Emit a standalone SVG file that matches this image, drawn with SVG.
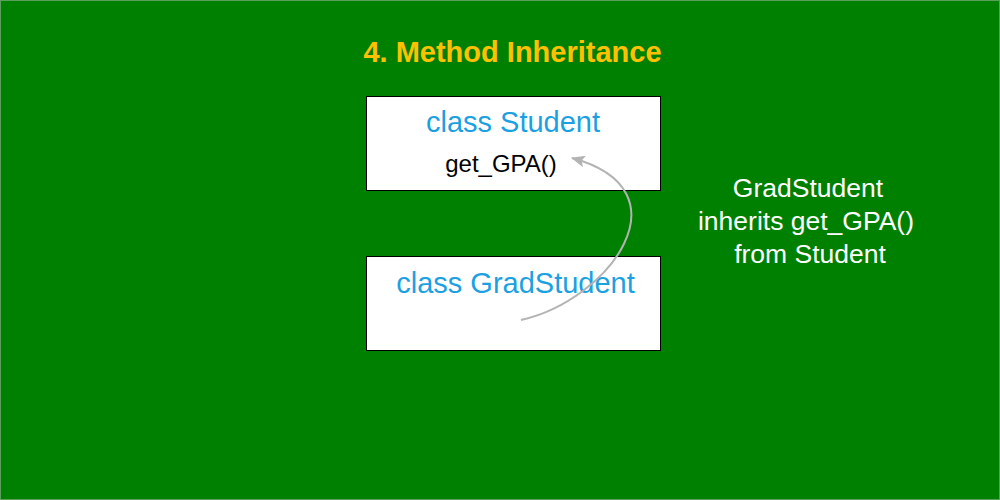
<svg xmlns="http://www.w3.org/2000/svg" width="1000" height="500" viewBox="0 0 1000 500">
<style>
.box{fill:#ffffff;stroke:#000000;stroke-width:1}
.cls{font-family:"Liberation Sans",Arial,sans-serif;font-size:29px;fill:#1ba1e2;text-anchor:middle}
.meth{font-family:"Liberation Sans",Arial,sans-serif;font-size:24px;fill:#000000;text-anchor:middle}
.note{font-family:"Liberation Sans",Arial,sans-serif;font-size:26.5px;fill:#ffffff;text-anchor:middle}
.title{font-family:"Liberation Sans",Arial,sans-serif;font-size:29px;font-weight:bold;fill:#ffc000;text-anchor:middle}
.conn{fill:none;stroke:#b3b3b3;stroke-width:2}
</style>
<defs>
<marker id="arr" markerUnits="userSpaceOnUse" markerWidth="16" markerHeight="14" refX="13" refY="6" orient="auto">
<path d="M0,0 L14,6 L0,12 L3,6 z" fill="#b3b3b3"/>
</marker>
</defs>
<rect x="0.5" y="0.5" width="999" height="499" fill="#008000" stroke="#5c9e5c" stroke-width="1"/>
<g id="title"><text class="title" x="512.5" y="62">4. Method Inheritance</text></g>
<g id="student">
<rect class="box" x="366.5" y="96.5" width="294" height="94"/>
<text class="cls" x="513" y="132">class Student</text>
<text class="meth" x="501" y="172">get_GPA()</text>
</g>
<g id="gradstudent">
<rect class="box" x="366.5" y="256.5" width="294" height="94"/>
<text class="cls" x="515.5" y="293">class GradStudent</text>
</g>
<g id="note">
<text class="note" x="808" y="197">GradStudent</text>
<text class="note" x="806" y="230">inherits get_GPA()</text>
<text class="note" x="810" y="263">from Student</text>
</g>
<g id="connectors">
<path class="conn" d="M521,320 C610,300 690,190 572,158" marker-end="url(#arr)"/>
</g>
</svg>
